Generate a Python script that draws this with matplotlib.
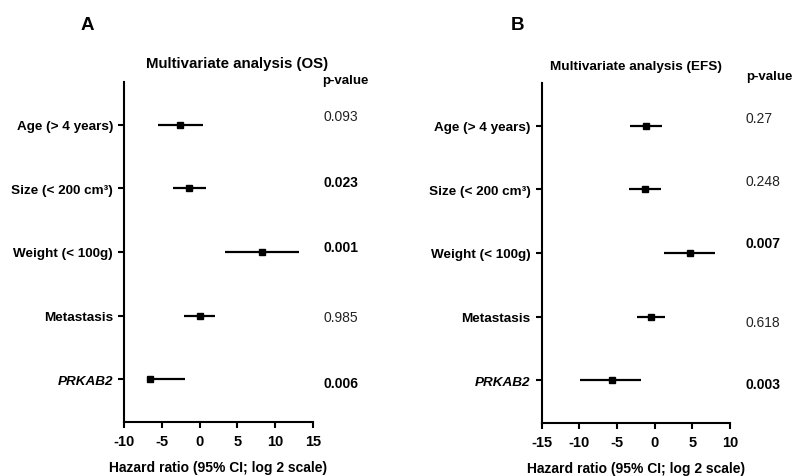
import matplotlib.pyplot as plt

plt.rcParams['font.family'] = ['Liberation Sans', 'DejaVu Sans']

# rows, top to bottom
labels = ['Age (> 4 years)', 'Size (< 200 cm\u00b3)', 'Weight (< 100g)', 'Metastasis', 'PRKAB2']

# panel A: OS
os_hr = [-2.56, -1.41, 8.23, 0.0, -6.57]
os_low = [-5.47, -3.57, 3.34, -2.03, -7.0]
os_high = [0.40, 0.83, 13.1, 1.98, -1.94]
os_p = ['0.093', '0.023', '0.001', '0.985', '0.006']
os_sig = [False, True, True, False, True]

# panel B: EFS
efs_hr = [-1.20, -1.33, 4.65, -0.44, -5.71]
efs_low = [-3.32, -3.45, 1.29, -2.30, -9.96]
efs_high = [0.93, 0.89, 8.01, 1.37, -1.86]
efs_p = ['0.27', '0.248', '0.007', '0.618', '0.003']
efs_sig = [False, False, True, False, True]

os_ticks = [-10, -5, 0, 5, 10, 15]
efs_ticks = [-15, -10, -5, 0, 5, 10]

W, H = 792, 477


def forest(ax, hr, low, high, ticks):
    rows = list(range(len(labels)))
    for r, lo, hi in zip(rows, low, high):
        ax.plot([lo, hi], [r, r], color='black', lw=1.6, solid_capstyle='butt', zorder=2)
    ax.plot(hr, rows, 's', color='black', ms=4.5, zorder=3)

    ax.set_ylim(len(labels) - 1 + 0.67, -0.67)
    ax.set_xlim(ticks[0], ticks[-1])
    ax.set_xticks(ticks)
    ax.set_xticklabels([str(t) for t in ticks], fontweight='bold', fontsize=10.5)
    ax.set_yticks(rows)
    ax.set_yticklabels(labels, fontweight='bold', fontsize=9.7)
    ax.get_yticklabels()[-1].set_style('italic')

    for s in ['top', 'right']:
        ax.spines[s].set_visible(False)
    for s in ['left', 'bottom']:
        ax.spines[s].set_linewidth(1.5)
    ax.tick_params(width=1.5, length=4, pad=4)
    ax.tick_params(axis='x', pad=5)
    ax.set_xlabel('Hazard ratio (95% CI; log 2 scale)', fontweight='bold', fontsize=10, labelpad=8)


def pvalues(ax, pvals, sig, dx, dys):
    for r, (p, s, dy) in enumerate(zip(pvals, sig, dys)):
        ax.annotate(p, xy=(1, r), xycoords=ax.get_yaxis_transform(),
                    xytext=(dx, dy), textcoords='offset pixels',
                    ha='left', va='center', fontsize=10,
                    fontweight='bold' if s else 'normal',
                    color='black' if s else '#222222')


fig = plt.figure(figsize=(W / 100, H / 100), dpi=100)

ax1 = fig.add_axes([124 / W, 1 - 423 / H, 189 / W, 340 / H])
forest(ax1, os_hr, os_low, os_high, os_ticks)
pvalues(ax1, os_p, os_sig, 10, [8.7, 6.5, 4.5, -1.5, -3.3])

ax2 = fig.add_axes([541.5 / W, 1 - 424 / H, 188.5 / W, 340 / H])
forest(ax2, efs_hr, efs_low, efs_high, efs_ticks)
pvalues(ax2, efs_p, efs_sig, 16, [7.7, 8.3, 9.7, -5.3, -4])

fig.text(87 / W, 1 - 25 / H, 'A', fontsize=13.5, fontweight='bold', ha='center', va='center')
fig.text(517 / W, 1 - 25 / H, 'B', fontsize=13.5, fontweight='bold', ha='center', va='center')
fig.text(237 / W, 1 - 64 / H, 'Multivariate analysis (OS)', fontsize=10.8, fontweight='bold',
         ha='center', va='center')
fig.text(636 / W, 1 - 67 / H, 'Multivariate analysis (EFS)', fontsize=9.7, fontweight='bold',
         ha='center', va='center')
fig.text(322 / W, 1 - 81 / H, 'p-value', fontsize=9.5, fontweight='bold', ha='left', va='center')
fig.text(746 / W, 1 - 77 / H, 'p-value', fontsize=9.5, fontweight='bold', ha='left', va='center')

fig.savefig('out.png', dpi=100)
